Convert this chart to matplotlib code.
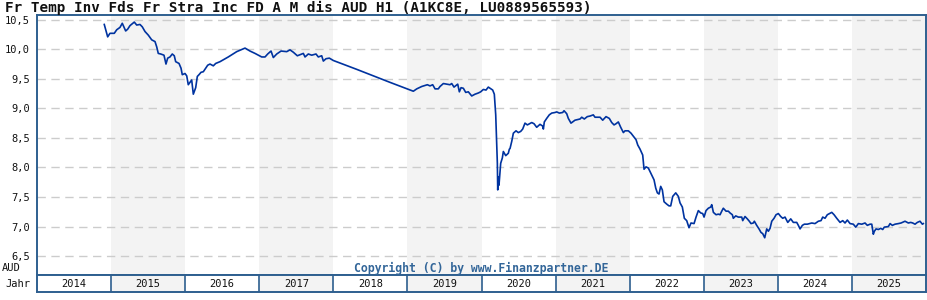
import numpy as np
import matplotlib
matplotlib.use("Agg")
import matplotlib.pyplot as plt

title = "Fr Temp Inv Fds Fr Stra Inc FD A M dis AUD H1 (A1KC8E, LU0889565593)"

# decimal year / price (AUD)
years = [
    2014.908, 2014.954, 2014.985, 2015.043, 2015.076, 2015.120, 2015.151, 2015.197,
    2015.224, 2015.255, 2015.313, 2015.346, 2015.390, 2015.421, 2015.458, 2015.502,
    2015.548, 2015.593, 2015.616, 2015.637, 2015.670, 2015.714, 2015.741, 2015.764,
    2015.795, 2015.826, 2015.853, 2015.872, 2015.917, 2015.944, 2015.961, 2015.998,
    2016.021, 2016.042, 2016.065, 2016.088, 2016.110, 2016.142, 2016.164, 2016.187,
    2016.214, 2016.245, 2016.277, 2016.304, 2016.335, 2016.380, 2016.412, 2016.470,
    2016.582, 2016.696, 2016.808, 2016.875, 2016.943, 2017.033, 2017.078, 2017.114,
    2017.159, 2017.190, 2017.236, 2017.294, 2017.371, 2017.415, 2017.460, 2017.514,
    2017.573, 2017.595, 2017.618, 2017.662, 2017.708, 2017.766, 2017.797, 2017.843,
    2017.865, 2017.901, 2017.946, 2018.000, 2018.316, 2018.765, 2019.080, 2019.126,
    2019.193, 2019.269, 2019.305, 2019.341, 2019.373, 2019.417, 2019.440, 2019.485,
    2019.530, 2019.575, 2019.598, 2019.629, 2019.679, 2019.701, 2019.724, 2019.755,
    2019.787, 2019.822, 2019.868, 2019.913, 2019.957, 2019.989, 2020.025, 2020.061,
    2020.092, 2020.128, 2020.151, 2020.173, 2020.192, 2020.205, 2020.214, 2020.219,
    2020.227, 2020.236, 2020.259, 2020.281, 2020.295, 2020.327, 2020.362, 2020.376,
    2020.385, 2020.408, 2020.430, 2020.466, 2020.497, 2020.529, 2020.556, 2020.587,
    2020.619, 2020.678, 2020.709, 2020.745, 2020.790, 2020.826, 2020.835, 2020.848,
    2020.880, 2020.915, 2020.948, 2020.992, 2021.015, 2021.051, 2021.096, 2021.114,
    2021.150, 2021.172, 2021.208, 2021.262, 2021.330, 2021.353, 2021.388, 2021.428,
    2021.465, 2021.509, 2021.532, 2021.600, 2021.636, 2021.681, 2021.725, 2021.758,
    2021.789, 2021.816, 2021.847, 2021.879, 2021.915, 2021.937, 2021.982, 2022.018,
    2022.049, 2022.086, 2022.109, 2022.140, 2022.176, 2022.194, 2022.221, 2022.252,
    2022.275, 2022.298, 2022.329, 2022.352, 2022.374, 2022.396, 2022.419, 2022.441,
    2022.464, 2022.500, 2022.531, 2022.554, 2022.581, 2022.622, 2022.657, 2022.680,
    2022.711, 2022.738, 2022.770, 2022.801, 2022.828, 2022.869, 2022.896, 2022.927,
    2022.959, 2022.986, 2023.004, 2023.031, 2023.062, 2023.094, 2023.108, 2023.130,
    2023.166, 2023.197, 2023.220, 2023.243, 2023.264, 2023.301, 2023.332, 2023.355,
    2023.386, 2023.399, 2023.432, 2023.467, 2023.513, 2023.526, 2023.557, 2023.588,
    2023.615, 2023.638, 2023.669, 2023.683, 2023.715, 2023.746, 2023.773, 2023.796,
    2023.823, 2023.850, 2023.872, 2023.895, 2023.918, 2023.949, 2023.976, 2024.007,
    2024.039, 2024.066, 2024.097, 2024.134, 2024.174, 2024.209, 2024.255, 2024.277,
    2024.300, 2024.331, 2024.358, 2024.398, 2024.458, 2024.502, 2024.547, 2024.583,
    2024.606, 2024.637, 2024.668, 2024.728, 2024.759, 2024.795, 2024.840, 2024.876,
    2024.907, 2024.938, 2024.975, 2025.019, 2025.052, 2025.087, 2025.133, 2025.177,
    2025.208, 2025.245, 2025.268, 2025.289, 2025.303, 2025.326, 2025.357, 2025.389,
    2025.416, 2025.437, 2025.492, 2025.515, 2025.546, 2025.582, 2025.627, 2025.663,
    2025.717, 2025.762, 2025.794, 2025.821, 2025.852, 2025.883, 2025.919, 2025.951,
    2025.964,
]
prices = [
    10.42, 10.21, 10.27, 10.27, 10.33, 10.37, 10.44, 10.31,
    10.34, 10.40, 10.46, 10.41, 10.42, 10.38, 10.30, 10.24,
    10.16, 10.13, 10.04, 9.93, 9.92, 9.90, 9.75, 9.85,
    9.87, 9.92, 9.89, 9.79, 9.76, 9.68, 9.57, 9.59,
    9.55, 9.40, 9.44, 9.48, 9.24, 9.35, 9.54, 9.57,
    9.61, 9.62, 9.68, 9.73, 9.75, 9.72, 9.76, 9.79,
    9.87, 9.96, 10.02, 9.97, 9.93, 9.87, 9.87, 9.92,
    9.97, 9.86, 9.92, 9.97, 9.96, 9.99, 9.95, 9.89,
    9.92, 9.93, 9.87, 9.92, 9.90, 9.92, 9.87, 9.89,
    9.80, 9.84, 9.85, 9.81, 9.66, 9.44, 9.29, 9.33,
    9.37, 9.40, 9.38, 9.40, 9.33, 9.33, 9.37, 9.42,
    9.41, 9.40, 9.42, 9.36, 9.41, 9.28, 9.35, 9.34,
    9.27, 9.28, 9.21, 9.24, 9.26, 9.28, 9.32, 9.31,
    9.36, 9.33, 9.31, 9.24, 8.89, 8.38, 8.07, 7.62,
    7.84, 7.70, 8.07, 8.16, 8.27, 8.20, 8.24, 8.31,
    8.32, 8.44, 8.58, 8.62, 8.59, 8.61, 8.65, 8.75,
    8.72, 8.76, 8.74, 8.68, 8.73, 8.70, 8.65, 8.77,
    8.83, 8.89, 8.92, 8.93, 8.94, 8.92, 8.93, 8.96,
    8.91, 8.83, 8.75, 8.80, 8.82, 8.85, 8.82, 8.86,
    8.87, 8.89, 8.85, 8.85, 8.80, 8.86, 8.83, 8.76,
    8.72, 8.74, 8.77, 8.68, 8.59, 8.62, 8.62, 8.58,
    8.53, 8.47, 8.38, 8.31, 8.21, 7.97, 8.01, 7.99,
    7.93, 7.87, 7.79, 7.65, 7.57, 7.55, 7.68, 7.62,
    7.42, 7.38, 7.35, 7.35, 7.51, 7.57, 7.51, 7.40,
    7.33, 7.14, 7.10, 6.98, 7.06, 7.05, 7.16, 7.27,
    7.23, 7.22, 7.16, 7.27, 7.31, 7.33, 7.37, 7.24,
    7.20, 7.21, 7.20, 7.26, 7.31, 7.26, 7.26, 7.23,
    7.20, 7.14, 7.18, 7.16, 7.16, 7.10, 7.17, 7.13,
    7.09, 7.05, 7.06, 7.09, 7.02, 6.96, 6.90, 6.88,
    6.81, 6.96, 6.92, 6.97, 7.09, 7.14, 7.20, 7.22,
    7.17, 7.14, 7.16, 7.07, 7.13, 7.07, 7.07, 7.02,
    6.96, 7.02, 7.04, 7.04, 7.06, 7.05, 7.09, 7.10,
    7.16, 7.14, 7.20, 7.24, 7.20, 7.14, 7.07, 7.10,
    7.06, 7.11, 7.05, 7.04, 6.99, 7.05, 7.04, 7.06,
    7.02, 7.04, 7.04, 6.87, 6.92, 6.96, 6.95, 6.97,
    6.95, 6.99, 7.00, 7.05, 7.02, 7.04, 7.05, 7.06,
    7.09, 7.06, 7.07, 7.06, 7.04, 7.07, 7.09, 7.04,
    7.05,
]

year_labels = [2014, 2015, 2016, 2017, 2018, 2019, 2020, 2021, 2022, 2023, 2024, 2025]
y_ticks = [6.5, 7.0, 7.5, 8.0, 8.5, 9.0, 9.5, 10.0, 10.5]

frame_col = "#2e5f8f"
line_col = "#0033a0"
shade_col = "#f3f3f3"
W, H = 928, 300

fig = plt.figure(figsize=(W / 100, H / 100), dpi=100)
ax = fig.add_axes([37 / W, 25 / H, 889 / W, 260 / H])
ax_yr = fig.add_axes([37 / W, 8 / H, 889 / W, 17 / H])

x0, x1 = year_labels[0], year_labels[-1] + 1
for i, yr in enumerate(year_labels):
    if i % 2 == 1:
        ax.axvspan(yr, yr + 1, color=shade_col, lw=0, zorder=0)
        ax_yr.axvspan(yr, yr + 1, color=shade_col, lw=0, zorder=0)
    ax_yr.text(yr + 0.5, 0.45, str(yr), ha="center", va="center",
               fontsize=7.5, family="DejaVu Sans Mono", color="#111111")
    if i > 0:
        ax_yr.axvline(yr, color=frame_col, lw=1.2)

for v in y_ticks:
    ax.axhline(v, color="#cccccc", lw=1, dashes=(6, 4), zorder=1)

ax.plot(years, prices, color=line_col, lw=1.2, zorder=3)

ax.set_xlim(x0, x1)
ax.set_ylim(6.18, 10.58)
ax.set_xticks([])
ax.set_yticks(y_ticks)
ax.set_yticklabels([f"{v:.1f}".replace(".", ",") for v in y_ticks],
                   fontsize=7.5, family="DejaVu Sans Mono", color="#111111")
ax.tick_params(axis="y", length=0, pad=5)
for s in ax.spines.values():
    s.set_color(frame_col)
    s.set_linewidth(1.4)

ax_yr.set_xlim(x0, x1)
ax_yr.set_ylim(0, 1)
ax_yr.set_xticks([])
ax_yr.set_yticks([])
for s in ax_yr.spines.values():
    s.set_color(frame_col)
    s.set_linewidth(1.4)

fig.text(5 / W, 1 - 8 / H, title, ha="left", va="center", fontsize=10.3,
         family="DejaVu Sans Mono", fontweight="bold", color="#111111")
fig.text(2 / W, 1 - 268 / H, "AUD", ha="left", va="center", fontsize=7.5,
         family="DejaVu Sans Mono", color="#111111")
fig.text(30 / W, 1 - 284 / H, "Jahr", ha="right", va="center", fontsize=7.5,
         family="DejaVu Sans Mono", color="#111111")
fig.text(481 / W, 1 - 268 / H, "Copyright (C) by www.Finanzpartner.DE",
         ha="center", va="center", fontsize=8.3, family="DejaVu Sans Mono",
         fontweight="bold", color="#336699")

fig.savefig("out.png", dpi=100)
